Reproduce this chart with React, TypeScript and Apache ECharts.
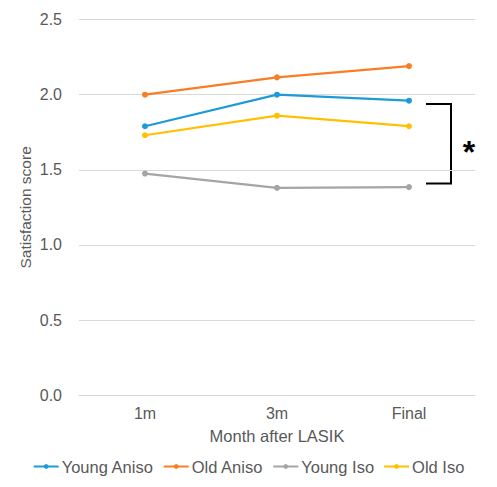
import { useEffect, useRef } from "react";
import * as echarts from "echarts";

const months = ["1m", "3m", "Final"];
const youngAniso = [1.79, 2.0, 1.96];
const oldAniso = [2.0, 2.115, 2.19];
const youngIso = [1.475, 1.38, 1.385];
const oldIso = [1.73, 1.86, 1.79];

const seriesNames = ["Young Aniso", "Old Aniso", "Young Iso", "Old Iso"];
const seriesColors = ["#1E9BD7", "#FA7D26", "#A5A5A5", "#FFC000"];
const seriesData = [youngAniso, oldAniso, youngIso, oldIso];

const FONT = "'Liberation Sans', Arial, sans-serif";
const TEXT = "#595959";
const GRID = "#D9D9D9";

export default function App() {
    const ref = useRef<HTMLDivElement>(null);

    useEffect(() => {
        if (!ref.current) return;
        const chart = echarts.init(ref.current, undefined, { renderer: "svg" });
        chart.setOption({
            animation: false,
            textStyle: { fontFamily: FONT },
            grid: { left: 79, right: 22, top: 19.5, bottom: 91.7, outerBoundsMode: "none" },
            legend: {
                bottom: 7,
                left: "center",
                itemWidth: 25,
                itemHeight: 6,
                itemGap: 9,
                textStyle: { color: TEXT, fontSize: 16.5, fontFamily: FONT, padding: [0, 0, 0, -2] },
                data: seriesNames
            },
            xAxis: {
                type: "category",
                data: months,
                boundaryGap: true,
                axisLine: { lineStyle: { color: GRID, width: 1 } },
                axisTick: { show: false },
                axisLabel: { color: TEXT, fontSize: 16, margin: 10 },
                name: "Month after LASIK",
                nameLocation: "middle",
                nameGap: 32,
                nameMoveOverlap: false,
                nameTextStyle: { color: TEXT, fontSize: 16.5 }
            },
            yAxis: {
                type: "value",
                min: 0,
                max: 2.5,
                interval: 0.5,
                axisLine: { show: false },
                axisTick: { show: false },
                axisLabel: { color: TEXT, fontSize: 16, margin: 17, formatter: (v: number) => v.toFixed(1) },
                splitLine: { lineStyle: { color: GRID, width: 1 } },
                name: "Satisfaction score",
                nameLocation: "middle",
                nameGap: 46,
                nameMoveOverlap: false,
                nameTextStyle: { color: TEXT, fontSize: 15.5 }
            },
            graphic: [
                {
                    type: "polyline",
                    shape: { points: [[426, 104], [451, 104], [451, 183.5], [426, 183.5]] },
                    style: { stroke: "#000", lineWidth: 2, fill: "none" }
                },
                {
                    type: "text",
                    x: 469,
                    y: 152,
                    style: {
                        text: "*",
                        fontSize: 32,
                        fontWeight: "bold",
                        fill: "#000",
                        align: "center",
                        verticalAlign: "middle",
                        fontFamily: FONT
                    }
                }
            ],
            series: seriesNames.map((name, i) => ({
                name,
                type: "line",
                data: seriesData[i],
                color: seriesColors[i],
                symbol: "circle",
                symbolSize: 6,
                lineStyle: { width: 2.25 }
            }))
        });
        return () => chart.dispose();
    }, []);

    return <div ref={ref} style={{ position: "absolute", left: 0, top: 0, width: 497, height: 487 }} />;
}
